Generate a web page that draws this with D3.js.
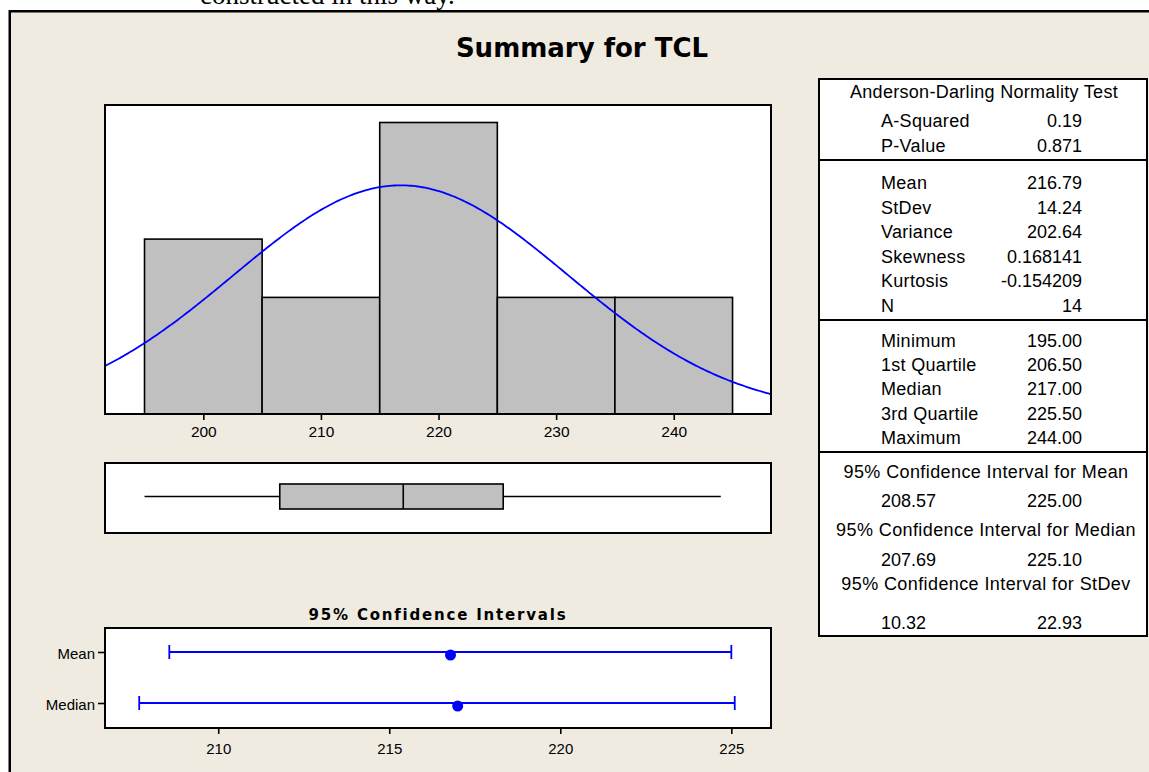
<!DOCTYPE html>
<html>
<head>
<meta charset="utf-8">
<script src="https://cdn.jsdelivr.net/npm/d3@7"></script>
<style>
body{margin:0;background:#fff}
svg{display:block}
text{font-family:"Liberation Sans",Arial,sans-serif;fill:#000}
</style>
</head>
<body>
<svg id="chart" width="1149" height="772"></svg>
<script>
var binEdges=[195,205,215,225,235,245];
var binCounts=[3,2,5,2,2];
var histTicks=[200,210,220,230,240];
var fitMean=216.79, fitStDev=14.24, fitN=14;
var boxValues=[195.00,206.50,217.00,225.50,244.00];// min, q1, median, q3, max
var ciNames=["Mean","Median"];
var ciLower=[208.57,207.69];
var ciUpper=[225.00,225.10];
var ciCenter=[216.79,217.00];
var ciTicks=[210,215,220,225];

var adLabels=["A-Squared","P-Value"];
var adValues=["0.19","0.871"];
var descLabels=["Mean","StDev","Variance","Skewness","Kurtosis","N"];
var descValues=["216.79","14.24","202.64","0.168141","-0.154209","14"];
var quartLabels=["Minimum","1st Quartile","Median","3rd Quartile","Maximum"];
var quartValues=["195.00","206.50","217.00","225.50","244.00"];
var intervalTitles=["95% Confidence Interval for Mean","95% Confidence Interval for Median","95% Confidence Interval for StDev"];
var intervalLow=["208.57","207.69","10.32"];
var intervalHigh=["225.00","225.10","22.93"];

var svg=d3.select("#chart");
var beige="#efebe0", grey="#c0c0c0", blue="#0000ff";

// page text cut at the top + the graph frame
svg.append("text").attr("x",200).attr("y",4).style("font-family","'Liberation Serif',serif").style("font-size","27px").text("constructed in this way.");
svg.append("rect").attr("x",9.75).attr("y",11.25).attr("width",1200).attr("height",800)
    .style("fill",beige).style("stroke","#000").style("stroke-width",2.5);

svg.append("text").attr("x",582).attr("y",57).attr("text-anchor","middle")
    .style("font-family","'DejaVu Sans',sans-serif").style("font-size","26px").style("font-weight","bold").text("Summary for TCL");

// ---- histogram ----
var H={x0:105,x1:771,y0:105,y1:414};
var x=d3.scaleLinear().domain([191.64,248.27]).range([H.x0,H.x1]);
var y=d3.scaleLinear().domain([0,5.3]).range([H.y1,H.y0]);

svg.append("rect").attr("x",H.x0).attr("y",H.y0).attr("width",H.x1-H.x0).attr("height",H.y1-H.y0).style("fill","#fff");
svg.append("clipPath").attr("id","histClip").append("rect").attr("x",H.x0).attr("y",H.y0).attr("width",H.x1-H.x0).attr("height",H.y1-H.y0);

var bins=binCounts.map(function(c,i){return {a:binEdges[i],b:binEdges[i+1],n:c};});
svg.append("g").selectAll("rect").data(bins).enter().append("rect")
    .attr("x",function(d){return x(d.a);}).attr("y",function(d){return y(d.n);})
    .attr("width",function(d){return x(d.b)-x(d.a);}).attr("height",function(d){return y(0)-y(d.n);})
    .style("fill",grey).style("stroke","#000").style("stroke-width",1.6);

// fitted normal curve from the Mean / StDev in the table, scaled to counts
var binW=binEdges[1]-binEdges[0];
var xs=d3.range(x.domain()[0],x.domain()[1]+0.2,0.2);
var curve=d3.line().x(function(v){return x(v);})
    .y(function(v){var z=(v-fitMean)/fitStDev;return y(fitN*binW*Math.exp(-0.5*z*z)/(fitStDev*Math.sqrt(2*Math.PI)));});
svg.append("path").datum(xs).attr("d",curve).attr("clip-path","url(#histClip)")
    .style("fill","none").style("stroke",blue).style("stroke-width",1.8);

svg.append("rect").attr("x",H.x0).attr("y",H.y0).attr("width",H.x1-H.x0).attr("height",H.y1-H.y0)
    .style("fill","none").style("stroke","#000").style("stroke-width",2);

var xAxis=svg.append("g").attr("transform","translate(0,"+H.y1+")")
    .call(d3.axisBottom(x).tickValues(histTicks).tickSize(6).tickPadding(6));
xAxis.select(".domain").remove();
xAxis.selectAll("text").style("font-size","15.5px").style("font-family","'Liberation Sans',Arial,sans-serif");

// ---- boxplot ----
var B={y0:463,y1:533,top:484,bot:509};
var bmid=(B.top+B.bot)/2;
svg.append("rect").attr("x",H.x0).attr("y",B.y0).attr("width",H.x1-H.x0).attr("height",B.y1-B.y0)
    .style("fill","#fff").style("stroke","#000").style("stroke-width",2);
var bx=svg.append("g");
bx.append("line").attr("x1",x(boxValues[0])).attr("x2",x(boxValues[1])).attr("y1",bmid).attr("y2",bmid).style("stroke","#000").style("stroke-width",1.6);
bx.append("line").attr("x1",x(boxValues[3])).attr("x2",x(boxValues[4])).attr("y1",bmid).attr("y2",bmid).style("stroke","#000").style("stroke-width",1.6);
bx.append("rect").attr("x",x(boxValues[1])).attr("y",B.top).attr("width",x(boxValues[3])-x(boxValues[1])).attr("height",B.bot-B.top)
    .style("fill",grey).style("stroke","#000").style("stroke-width",1.6);
bx.append("line").attr("x1",x(boxValues[2])).attr("x2",x(boxValues[2])).attr("y1",B.top).attr("y2",B.bot).style("stroke","#000").style("stroke-width",1.6);

// ---- confidence intervals ----
var C={y0:628,y1:728};
var xc=d3.scaleLinear().domain([206.69,226.16]).range([H.x0,H.x1]);
var yc=d3.scalePoint().domain(ciNames).range([652,703]);

svg.append("text").attr("x",438).attr("y",620).attr("text-anchor","middle")
    .style("font-family","'DejaVu Sans',sans-serif").style("font-size","15px").style("font-weight","bold").style("letter-spacing","1.8px").text("95% Confidence Intervals");
svg.append("rect").attr("x",H.x0).attr("y",C.y0).attr("width",H.x1-H.x0).attr("height",C.y1-C.y0)
    .style("fill","#fff").style("stroke","#000").style("stroke-width",2);

var ci=ciNames.map(function(n,i){return {name:n,lo:ciLower[i],hi:ciUpper[i],c:ciCenter[i]};});
var g=svg.append("g").selectAll("g").data(ci).enter().append("g");
g.append("line").attr("x1",function(d){return xc(d.lo);}).attr("x2",function(d){return xc(d.hi);})
    .attr("y1",function(d){return yc(d.name);}).attr("y2",function(d){return yc(d.name);}).style("stroke",blue).style("stroke-width",1.8);
["lo","hi"].forEach(function(k){
    g.append("line").attr("x1",function(d){return xc(d[k]);}).attr("x2",function(d){return xc(d[k]);})
        .attr("y1",function(d){return yc(d.name)-7;}).attr("y2",function(d){return yc(d.name)+7;}).style("stroke",blue).style("stroke-width",1.8);
});
g.append("circle").attr("cx",function(d){return xc(d.c);}).attr("cy",function(d){return yc(d.name)+3;}).attr("r",5.5).style("fill",blue);

var xcAxis=svg.append("g").attr("transform","translate(0,"+C.y1+")")
    .call(d3.axisBottom(xc).tickValues(ciTicks).tickSize(6).tickPadding(9));
xcAxis.select(".domain").remove();
var ycAxis=svg.append("g").attr("transform","translate("+H.x0+",0)")
    .call(d3.axisLeft(yc).tickSize(7).tickPadding(3));
ycAxis.select(".domain").remove();
svg.selectAll(".tick line").style("stroke","#000").style("stroke-width",1.6);
xcAxis.selectAll("text").style("font-size","15px").style("font-family","'Liberation Sans',Arial,sans-serif");
ycAxis.selectAll("text").style("font-size","15px").style("font-family","'Liberation Sans',Arial,sans-serif").attr("dy","0.4em");

// ---- statistics table ----
var T={x0:819,x1:1147,y0:79,y1:636,lab:881,val:1082};
var tcx=(T.x0+T.x1)/2;
svg.append("rect").attr("x",T.x0).attr("y",T.y0).attr("width",T.x1-T.x0).attr("height",T.y1-T.y0)
    .style("fill","#fff").style("stroke","#000").style("stroke-width",2);
[160,320,452].forEach(function(yy){
    svg.append("line").attr("x1",T.x0).attr("x2",T.x1).attr("y1",yy).attr("y2",yy).style("stroke","#000").style("stroke-width",2);
});
var tt=svg.append("g").style("font-size","18px");
tt.append("text").attr("x",tcx+1).attr("y",98).attr("text-anchor","middle").style("letter-spacing","0.3px").text("Anderson-Darling Normality Test");

function rows(labels,values,y0,step){
    labels.forEach(function(l,i){
        tt.append("text").attr("x",T.lab).attr("y",y0+i*step).style("letter-spacing","0.3px").text(l);
        tt.append("text").attr("x",T.val).attr("y",y0+i*step).attr("text-anchor","end").text(values[i]);
    });
}
rows(adLabels,adValues,127,25);
rows(descLabels,descValues,189,24.6);
rows(quartLabels,quartValues,346.5,24.4);

var titleY=[477.5,536,589.5], valY=[506.5,566,629];
intervalTitles.forEach(function(t,i){
    tt.append("text").attr("x",tcx+3).attr("y",titleY[i]).attr("text-anchor","middle").style("letter-spacing","0.4px").text(t);
    tt.append("text").attr("x",T.lab).attr("y",valY[i]).text(intervalLow[i]);
    tt.append("text").attr("x",T.val).attr("y",valY[i]).attr("text-anchor","end").text(intervalHigh[i]);
});
</script>
</body>
</html>
